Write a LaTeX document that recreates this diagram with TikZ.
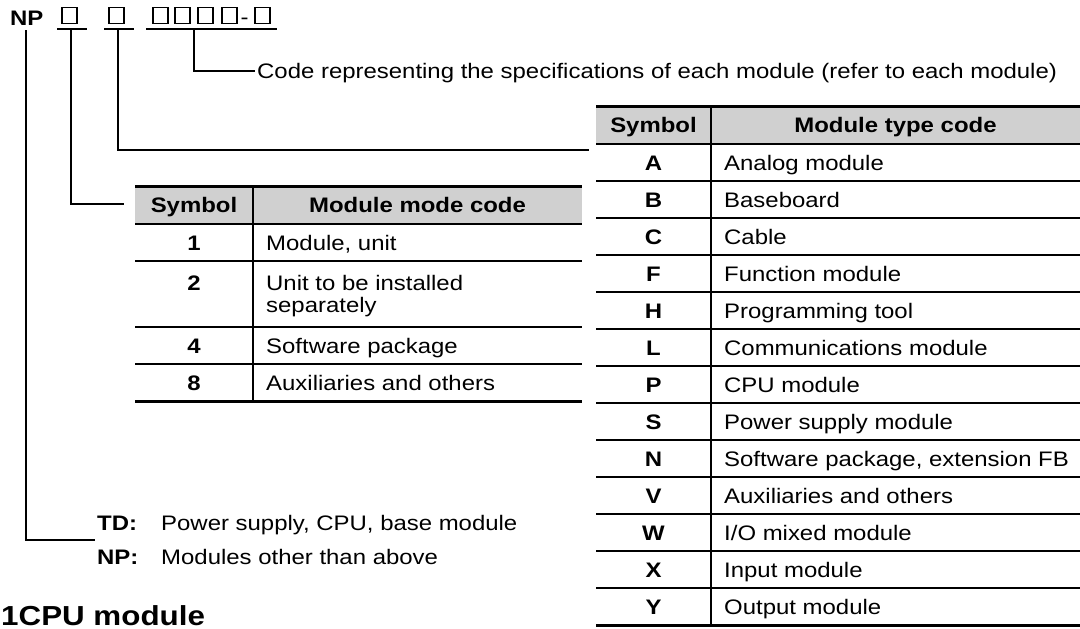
\documentclass[tikz,border=0pt]{standalone}
\usepackage{fontspec}
\setmainfont[FakeStretch=1.14]{Liberation Sans}
\definecolor{hdr}{RGB}{208,208,208}
\begin{document}
\begin{tikzpicture}[x=1pt,y=-1pt,
  every node/.style={inner sep=0pt,font=\fontsize{21}{22}\selectfont},
  lft/.style={anchor=base west},
  ctr/.style={anchor=base},
  bsym/.style={font=\fontsize{21}{22}\selectfont\bfseries},
  sq/.style={draw,line width=1.7pt,minimum width=14.5pt,minimum height=16pt},
  conn/.style={line width=1.6pt},
  thickrule/.style={line width=3pt},
  thinrule/.style={line width=1.5pt}]
\useasboundingbox (0,0) rectangle (1080,629);

% --- code line ---
\node[bsym,lft] (np) at (10,25) {NP};
\node[sq] (b1) at (69.5,15.5) {};
\node[sq] (b2) at (116.5,15.5) {};
\node[sq] (g1) at (160.5,15.5) {};
\node[sq] (g2) at (182.5,15.5) {};
\node[sq] (g3) at (205.5,15.5) {};
\node[sq] (g4) at (229.5,15.5) {};
\node[ctr] (dash) at (244.5,24) {-};
\node[sq] (g5) at (262.5,15.5) {};

\coordinate (u1a) at (57,29);  \coordinate (u1b) at (87,29);
\coordinate (u2a) at (104,29); \coordinate (u2b) at (134,29);
\coordinate (u3a) at (146,29); \coordinate (u3b) at (277,29);
\draw[conn] (u1a) -- (u1b);
\draw[conn] (u2a) -- (u2b);
\draw[conn] (u3a) -- (u3b);

% --- connectors ---
\coordinate (c0) at (26,30);  \coordinate (c0e) at (95,540);
\coordinate (c1) at (71,29);  \coordinate (c1e) at (124,204);
\coordinate (c2) at (118,29); \coordinate (c2e) at (589,150);
\coordinate (c3) at (194,29); \coordinate (c3e) at (255,71);
\draw[conn] (c0) |- (c0e);
\draw[conn] (c1) |- (c1e);
\draw[conn] (c2) |- (c2e);
\draw[conn] (c3) |- (c3e);

\node[lft] (code) at (257,78) {Code representing the specifications of each module (refer to each module)};

% --- table 1: module mode code ---
\fill[hdr] (135,186) rectangle (582,224);
\draw[thickrule] (135,186) -- (582,186);
\draw[thinrule] (135,224) -- (582,224);
\draw[thinrule] (135,261) -- (582,261);
\draw[thinrule] (135,327) -- (582,327);
\draw[thinrule] (135,364) -- (582,364);
\draw[thickrule] (135,401) -- (582,401);
\draw[thinrule] (253,186) -- (253,401);
\node[bsym,ctr] (h1a) at (194,212.5) {Symbol};
\node[bsym,ctr] (h1b) at (417.5,212.5) {Module mode code};
\node[bsym,ctr] (s1-1) at (194,250) {1};
\node[lft] (t1-1) at (266,250) {Module, unit};
\node[bsym,ctr] (s1-2) at (194,290.5) {2};
\node[lft] (t1-2) at (266,290.5) {Unit to be installed};
\node[lft] (t1-2b) at (266,312.5) {separately};
\node[bsym,ctr] (s1-3) at (194,353) {4};
\node[lft] (t1-3) at (266,353) {Software package};
\node[bsym,ctr] (s1-4) at (194,390) {8};
\node[lft] (t1-4) at (266,390) {Auxiliaries and others};

% --- table 2: module type code ---
\fill[hdr] (596,106) rectangle (1080,144);
\draw[thickrule] (596,106) -- (1080,106);
\foreach \k in {0,...,12} {\draw[thinrule] (596,144+37*\k) -- (1080,144+37*\k);}
\draw[thickrule] (596,625.5) -- (1080,625.5);
\draw[thinrule] (711,106) -- (711,625.5);
\node[bsym,ctr] (h2a) at (653.5,132.5) {Symbol};
\node[bsym,ctr] (h2b) at (895.5,132.5) {Module type code};
\foreach \s/\t [count=\i from 0] in {A/{Analog module},B/{Baseboard},C/{Cable},F/{Function module},H/{Programming tool},L/{Communications module},P/{CPU module},S/{Power supply module},N/{Software package, extension FB},V/{Auxiliaries and others},W/{I/O mixed module},X/{Input module},Y/{Output module}} {
  \node[bsym,ctr] (s2-\i) at (653.5,170+37*\i) {\s};
  \node[lft] (t2-\i) at (724,170+37*\i) {\t};
}

% --- prefix legend ---
\node[bsym,lft] (td) at (97,530) {TD:};
\node[lft] (tdt) at (161,530) {Power supply, CPU, base module};
\node[bsym,lft] (npl) at (97,564) {NP:};
\node[lft] (npt) at (161,564) {Modules other than above};

\node[lft,font=\fontsize{27.5}{30}\selectfont\bfseries] (cpu) at (1,625) {1CPU module};
\end{tikzpicture}
\end{document}
